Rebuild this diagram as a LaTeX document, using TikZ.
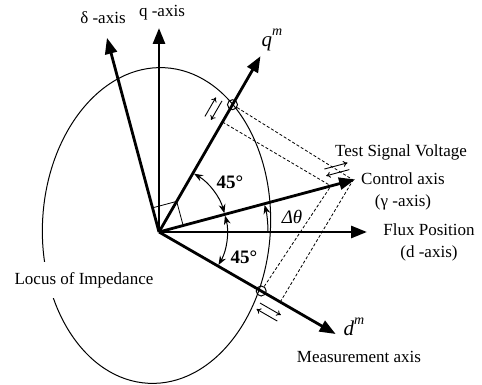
\documentclass[tikz,border=0pt]{standalone}
\usepackage{fontspec}
\setmainfont{Liberation Serif}
\usetikzlibrary{arrows.meta,calc}

\begin{document}
\begin{tikzpicture}[x=0.5pt,y=0.5pt,
    every node/.style={font=\fontsize{8.5}{11}\selectfont},
    axis/.style={line width=1.4pt,-{Triangle[length=8pt,width=6pt]}},
    angarc/.style={line width=0.5pt,{Stealth[length=4.5pt,width=3.4pt]}-{Stealth[length=4.5pt,width=3.4pt]},shorten <=0.6pt,shorten >=0.6pt},
    proj/.style={dash pattern=on 1.5pt off 1pt,line width=0.4pt},
    jiggle/.style={line width=0.45pt,-{To[length=2.2pt,width=3pt]}},
    probe/.style={circle,draw,line width=0.5pt,minimum size=5pt,inner sep=0pt}]
  \useasboundingbox (-159,-153) rectangle (323,232);
  \coordinate (O) at (0,0);

  % locus of impedance
  \draw[line width=0.5pt,shift={(-2.5,6.5)},rotate=-3] (0,0) ellipse [x radius=114,y radius=158];
  \node[fill=white,inner ysep=5pt] (locus) at (-75,-48) {Locus of Impedance};

  % axis tips
  \coordinate (dtip) at (0:208);
  \coordinate (qtip) at (90:204);
  \coordinate (deltip) at (105:201);
  \coordinate (gtip) at (15:203);
  \coordinate (qmtip) at (60:203);
  \coordinate (dmtip) at (-30:204);

  % right angle between delta and gamma
  \draw[line width=0.4pt] (105:25) -- ([shift={(105:25)}]15:25) -- (15:25);

  % projections of the test signal
  \coordinate (gA) at (15:178);
  \coordinate (gB) at (15:201);
  \coordinate (qmin) at (60:127);
  \coordinate (dmout) at (-30:140);
  \node[probe] (qmc) at (60:147) {};
  \node[probe] (dmc) at (-30:118) {};
  \draw[proj] (qmc) -- (gB);
  \draw[proj] (qmin) -- (gA);
  \draw[proj] (dmc) -- (gA);
  \draw[proj] (dmout) -- (gB);

  % angles
  \draw[angarc] (60:68) arc[start angle=60,end angle=15,radius=68];
  \draw[angarc] (15:68) arc[start angle=15,end angle=-30,radius=68];
  \draw[line width=0.5pt,-{Stealth[length=4.5pt,width=3.4pt]},shorten >=0.6pt] (0:109) arc[start angle=0,end angle=15,radius=109];

  % axes
  \draw[axis] (O) -- (dtip);
  \draw[axis] (O) -- (qtip);
  \draw[axis] (O) -- (deltip);
  \draw[axis] (O) -- (gtip);
  \draw[axis] (O) -- (qmtip);
  \draw[axis] (O) -- (dmtip);

  % small test signal arrows
  \draw[jiggle] ([shift={(150:18)}]60:123) -- ([shift={(150:18)}]60:145);
  \draw[jiggle] ([shift={(150:11)}]60:145) -- ([shift={(150:11)}]60:123);
  \draw[jiggle] ([shift={(105:18)}]15:176) -- ([shift={(105:18)}]15:200);
  \draw[jiggle] ([shift={(105:11)}]15:200) -- ([shift={(105:11)}]15:176);
  \draw[jiggle] ([shift={(-120:11)}]-30:123) -- ([shift={(-120:11)}]-30:147);
  \draw[jiggle] ([shift={(-120:18)}]-30:147) -- ([shift={(-120:18)}]-30:123);

  % labels
  \node (dellab) at (-56,214) {δ -axis};
  \node (qlab) at (3,219) {q -axis};
  \node (qmlab) at (113,192) {\fontsize{10.5}{11}\selectfont\textit{q}\raisebox{1.2ex}{\fontsize{7}{8}\selectfont\textit{m}}};
  \node (tsvlab) at (242,80) {Test Signal Voltage};
  \node[align=center] (ctrllab) at (244,41) {Control axis\\(γ -axis)};
  \node[align=center] (fluxlab) at (270,-10) {Flux Position\\(d -axis)};
  \node (dmlab) at (195,-95) {\fontsize{10.5}{11}\selectfont\textit{d}\raisebox{1.2ex}{\fontsize{7}{8}\selectfont\textit{m}}};
  \node (measlab) at (200,-125) {Measurement axis};
  \node (ang1) at (71,50) {\fontsize{9.5}{11}\selectfont\textbf{45°}};
  \node (ang2) at (85,-25) {\fontsize{9.5}{11}\selectfont\textbf{45°}};
  \node (dthlab) at (133,15) {\fontsize{9.5}{11}\selectfont\textit{Δθ}};
\end{tikzpicture}
\end{document}
